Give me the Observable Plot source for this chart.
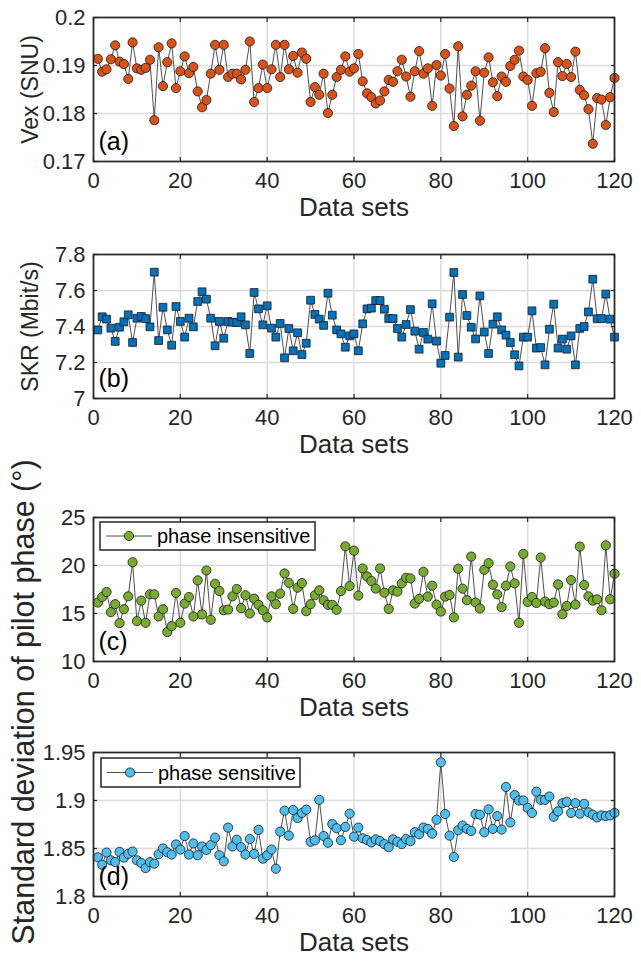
<!DOCTYPE html>
<html><head><meta charset="utf-8">
<script src="https://cdn.jsdelivr.net/npm/d3@7"></script>
<script src="https://cdn.jsdelivr.net/npm/@observablehq/plot@0.6"></script>
<style>
body{margin:0;background:#fff;}
#wrap{position:relative;width:641px;height:961px;overflow:hidden;background:#fff;}
#wrap svg{position:absolute;left:0;}
</style></head><body><div id="wrap"></div>
<script>
// ---- data ----
const vex = [0.1914,0.1887,0.1892,0.1913,0.1942,0.1908,0.1903,0.1872,0.1948,0.1894,
0.1891,0.1895,0.1912,0.1786,0.1938,0.1857,0.1907,0.1946,0.1853,0.1888,
0.1919,0.1884,0.1897,0.1846,0.1813,0.1828,0.1883,0.1943,0.1891,0.1943,
0.1876,0.1883,0.1883,0.1871,0.1891,0.1950,0.1824,0.1853,0.1902,0.1853,
0.1892,0.1943,0.1876,0.1943,0.1892,0.1920,0.1885,0.1927,0.1914,0.1824,
0.1855,0.1839,0.1883,0.1801,0.1839,0.1876,0.1891,0.1919,0.1887,0.1894,
0.1924,0.1867,0.1842,0.1834,0.1821,0.1827,0.1846,0.1870,0.1866,0.1888,
0.1912,0.1877,0.1835,0.1888,0.1930,0.1883,0.1894,0.1816,0.1901,0.1879,
0.1924,0.1852,0.1774,0.1940,0.1794,0.1839,0.1858,0.1888,0.1785,0.1885,
0.1917,0.1865,0.1836,0.1877,0.1866,0.1899,0.1912,0.1931,0.1877,0.1870,
0.1816,0.1884,0.1887,0.1936,0.1843,0.1803,0.1907,0.1878,0.1903,0.1876,
0.1929,0.1849,0.1838,0.1809,0.1737,0.1832,0.1829,0.1776,0.1834,0.1874];

const skr = [7.381,7.454,7.441,7.391,7.317,7.396,7.426,7.465,7.311,7.446,
7.456,7.444,7.398,7.702,7.322,7.507,7.381,7.296,7.511,7.428,
7.341,7.446,7.398,7.539,7.593,7.552,7.446,7.293,7.428,7.335,
7.428,7.424,7.422,7.454,7.409,7.250,7.589,7.498,7.409,7.515,
7.391,7.341,7.417,7.226,7.389,7.265,7.365,7.244,7.307,7.546,
7.467,7.441,7.406,7.585,7.463,7.381,7.359,7.285,7.348,7.359,
7.265,7.415,7.498,7.502,7.544,7.544,7.496,7.444,7.444,7.389,
7.341,7.411,7.494,7.374,7.274,7.367,7.330,7.526,7.319,7.196,
7.239,7.452,7.700,7.230,7.578,7.461,7.396,7.331,7.570,7.369,
7.250,7.413,7.454,7.381,7.352,7.311,7.243,7.181,7.341,7.341,
7.487,7.280,7.283,7.187,7.385,7.524,7.280,7.330,7.274,7.348,
7.187,7.389,7.400,7.481,7.663,7.443,7.444,7.580,7.441,7.341];

const phaseInsensitive = [16.14,16.72,17.24,15.14,15.97,14.00,15.45,16.79,20.34,14.21,
16.34,14.03,17.00,17.00,14.69,15.45,13.07,13.69,17.14,14.03,
16.03,16.72,14.69,18.45,14.90,19.48,14.34,18.10,17.34,15.34,
15.41,16.79,17.55,15.55,16.90,15.00,16.55,15.90,15.34,14.59,
16.79,15.97,17.07,19.17,18.20,15.48,17.69,18.17,15.24,15.97,
16.90,17.41,16.38,15.90,15.90,15.38,17.34,22.00,17.86,21.55,
16.86,19.69,18.86,18.38,17.59,19.69,17.17,15.48,17.41,17.28,
18.14,18.72,18.66,16.03,16.52,19.34,16.76,17.90,15.93,15.20,
16.76,16.93,14.59,19.66,17.59,16.38,20.93,16.14,15.52,19.55,
20.24,18.00,17.00,15.66,17.90,19.90,18.14,14.03,21.21,16.21,
16.72,16.10,20.83,16.24,15.97,16.14,18.03,14.93,15.79,18.48,
15.93,21.97,17.97,16.79,16.34,16.48,15.34,22.10,16.48,19.14];

const phaseSensitive = [1.8408,1.8331,1.8458,1.8377,1.8359,1.8465,1.8405,1.8444,1.8468,1.8377,
1.8349,1.8296,1.8359,1.8342,1.8440,1.8500,1.8461,1.8437,1.8542,1.8489,
1.8630,1.8437,1.8553,1.8430,1.8521,1.8486,1.8535,1.8613,1.8430,1.8366,
1.8718,1.8521,1.8592,1.8514,1.8437,1.8599,1.8444,1.8694,1.8394,1.8430,
1.8489,1.8289,1.8676,1.8894,1.8634,1.8901,1.8817,1.8870,1.8905,1.8570,
1.8585,1.9007,1.8630,1.8560,1.8754,1.8711,1.8585,1.8725,1.8863,1.8623,
1.8718,1.8606,1.8588,1.8563,1.8595,1.8577,1.8546,1.8514,1.8595,1.8570,
1.8546,1.8599,1.8577,1.8669,1.8648,1.8718,1.8704,1.8655,1.8799,1.9398,
1.8859,1.8634,1.8412,1.8690,1.8739,1.8704,1.8683,1.8859,1.8852,1.8669,
1.8908,1.8704,1.8838,1.8697,1.9141,1.8771,1.9056,1.9000,1.9000,1.8923,
1.8870,1.9092,1.9007,1.9007,1.9042,1.8831,1.8887,1.8972,1.8986,1.8870,
1.8972,1.8863,1.8965,1.8877,1.8852,1.8824,1.8845,1.8838,1.8845,1.8870];

const xTicks = [0, 20, 40, 60, 80, 100, 120];
const yTicksA = [0.17, 0.18, 0.19, 0.2];
const yTicksB = [7, 7.2, 7.4, 7.6, 7.8];
const yTicksC = [10, 15, 20, 25];
const yTicksD = [1.8, 1.85, 1.9, 1.95];

// ---- layout ----
const FONT = "'Liberation Sans', Arial, Helvetica, sans-serif";
const INK = "#262626";
const W = 641, ML = 93, MR = 27, MT = 14, PH = 144, MB = 70;
const wrap = document.getElementById("wrap");

function panel(o) {
  const data = o.values.map((v, i) => ({set: i + 1, v}));
  const tickOpts = {stroke: INK, strokeWidth: 1.2, color: INK, fontSize: 22, label: null};
  const chart = Plot.plot({
    width: W, height: MT + PH + MB,
    marginLeft: ML, marginRight: MR, marginTop: MT, marginBottom: MB,
    style: {fontFamily: FONT, background: "transparent", overflow: "visible"},
    x: {domain: [0, 120]},
    y: {domain: o.domain},
    marks: [
      Plot.gridX(xTicks, {stroke: "#dcdcdc", strokeOpacity: 1, strokeWidth: 1.5}),
      Plot.gridY(o.ticks, {stroke: "#dcdcdc", strokeOpacity: 1, strokeWidth: 1.5}),
      Plot.line(data, {x: "set", y: "v", stroke: "#3a3a3a", strokeWidth: 0.9}),
      Plot.dot(data, {x: "set", y: "v", r: o.r, symbol: o.symbol, fill: o.color, fillOpacity: 1, stroke: "#1a1a1a", strokeWidth: 0.8}),
      Plot.frame({stroke: INK, strokeWidth: 1.7}),
      Plot.axisX(xTicks, {...tickOpts, anchor: "bottom", tickSize: -4, tickPadding: 15}),
      Plot.axisX(xTicks, {...tickOpts, anchor: "top", tickSize: -4, tickFormat: () => ""}),
      Plot.axisY(o.ticks, {...tickOpts, anchor: "left", tickSize: -4, tickPadding: 12, tickFormat: d => String(d)}),
      Plot.axisY(o.ticks, {...tickOpts, anchor: "right", tickSize: -4, tickFormat: () => ""}),
      Plot.text(["Data sets"], {text: d => d, frameAnchor: "bottom", dy: 46, fontSize: 26, fill: INK, lineAnchor: "middle"}),
      o.ylabel ? Plot.text([o.ylabel], {text: d => d, frameAnchor: "left", dx: -63, rotate: -90, textAnchor: "middle", lineAnchor: "middle", fontSize: 23, fill: INK}) : null,
      Plot.text([o.letter], {text: d => d, frameAnchor: "bottom-left", dx: 5, dy: -12, textAnchor: "start", lineAnchor: "bottom", fontSize: 25, fill: "#000"})
    ]
  });
  chart.style.top = (o.top - MT) + "px";
  wrap.appendChild(chart);
}

panel({values: vex, domain: [0.17, 0.2], ticks: yTicksA, top: 17, color: "#D95319", symbol: "circle", r: 4.6, ylabel: "Vex (SNU)", letter: "(a)"});
panel({values: skr, domain: [7, 7.8], ticks: yTicksB, top: 254, color: "#0072BD", symbol: "square", r: 4.4, ylabel: "SKR (Mbit/s)", letter: "(b)"});
panel({values: phaseInsensitive, domain: [10, 25], ticks: yTicksC, top: 517, color: "#77AC30", symbol: "circle", r: 4.6, ylabel: null, letter: "(c)"});
panel({values: phaseSensitive, domain: [1.8, 1.95], ticks: yTicksD, top: 752, color: "#4DBEEE", symbol: "circle", r: 4.6, ylabel: null, letter: "(d)"});

// ---- overlay: shared y label and legends ----
const ov = d3.select(wrap).append("svg")
  .attr("width", W).attr("height", 961)
  .style("top", "0px").style("font-family", FONT);

ov.append("text")
  .attr("transform", "translate(23,702) rotate(-90)")
  .attr("text-anchor", "middle").attr("dominant-baseline", "central")
  .attr("font-size", 30.5).attr("fill", INK)
  .text("Standard deviation of pilot phase (°)");

function legend(x0, y0, x1, y1, color, label) {
  const g = ov.append("g");
  const cy = (y0 + y1) / 2;
  g.append("rect").attr("x", x0).attr("y", y0).attr("width", x1 - x0).attr("height", y1 - y0)
    .attr("fill", "#fff").attr("stroke", INK).attr("stroke-width", 1.5);
  g.append("line").attr("x1", x0 + 6).attr("x2", x0 + 52).attr("y1", cy).attr("y2", cy)
    .attr("stroke", "#3a3a3a").attr("stroke-width", 0.9);
  g.append("circle").attr("cx", x0 + 29).attr("cy", cy).attr("r", 4.6)
    .attr("fill", color).attr("stroke", "#1a1a1a").attr("stroke-width", 0.8);
  g.append("text").attr("x", x0 + 57).attr("y", cy).attr("dominant-baseline", "central")
    .attr("font-size", 20).attr("fill", "#000").text(label);
}
legend(100, 522, 315, 550, "#77AC30", "phase insensitive");
legend(101, 758, 300, 787, "#4DBEEE", "phase sensitive");
</script></body></html>
